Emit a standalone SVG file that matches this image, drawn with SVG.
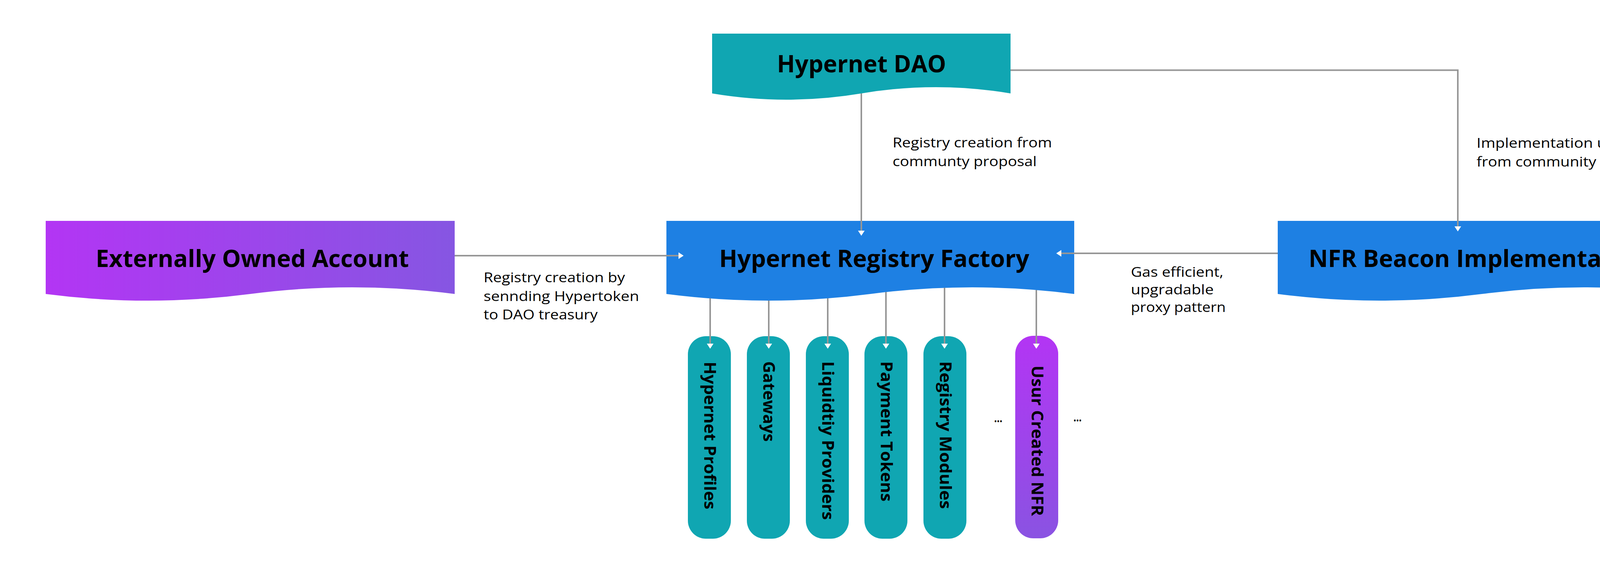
<svg xmlns="http://www.w3.org/2000/svg" width="4473" height="1499" viewBox="0 0 4473 1499">
<style>
.title{font-family:"Open Sans","Noto Sans",sans-serif;font-weight:700;font-size:60px;fill:#000}
.pilltxt{font-family:"Open Sans","Noto Sans",sans-serif;font-weight:700;font-size:41px;fill:#000}
.lbl{font-family:"Open Sans","Noto Sans",sans-serif;font-weight:400;font-size:35px;fill:#000}
.dots{font-family:"Open Sans","Noto Sans",sans-serif;font-weight:700;font-size:30px;fill:#000}
.conn{fill:none;stroke:#969696;stroke-width:4}
.teal{fill:#10A6B2}
.blue{fill:#1E80E3}
</style>
<defs>
<linearGradient id="gH" x1="0" y1="0" x2="1" y2="0">
<stop offset="0" stop-color="#B335F4"/>
<stop offset="1" stop-color="#8656E2"/>
</linearGradient>
<linearGradient id="gV" x1="0" y1="0" x2="0" y2="1">
<stop offset="0" stop-color="#B335F4"/>
<stop offset="1" stop-color="#8A53E2"/>
</linearGradient>
<marker id="arr" markerUnits="userSpaceOnUse" markerWidth="14" markerHeight="18" refX="0" refY="8.5" orient="auto" overflow="visible">
<path d="M0,0 L13,8.5 L0,17 Z" fill="#fff"/>
</marker>
</defs>
<rect x="0" y="0" width="4473" height="1499" fill="#fff"/>

<g id="node-dao">
<path class="teal" d="M1823,86 H2587 V239 Q2396,207 2205,239 Q2014,271 1823,239 Z"/>
<text class="title" x="2205.5" y="185" text-anchor="middle" textLength="433" lengthAdjust="spacingAndGlyphs">Hypernet DAO</text>
</g>

<g id="node-eoa">
<path fill="url(#gH)" d="M117,565 H1164 V752 Q902,718 640.5,752 Q379,786 117,752 Z"/>
<text class="title" x="646" y="683" text-anchor="middle" textLength="802" lengthAdjust="spacingAndGlyphs">Externally Owned Account</text>
</g>

<g id="node-factory">
<path class="blue" d="M1706,565 H2750 V752 Q2489,718 2228,752 Q1967,786 1706,752 Z"/>
<text class="title" x="2238" y="683" text-anchor="middle" textLength="794" lengthAdjust="spacingAndGlyphs">Hypernet Registry Factory</text>
</g>

<g id="node-nfr">
<path class="blue" d="M3271,565 H4316 V752 Q4055,718 3793.5,752 Q3532,786 3271,752 Z"/>
<text class="title" x="3801.5" y="683" text-anchor="middle" textLength="903" lengthAdjust="spacingAndGlyphs">NFR Beacon Implementations</text>
</g>

<g id="node-profiles">
<rect class="teal" x="1761" y="860" width="110" height="518" rx="46" ry="46"/>
<text class="pilltxt" transform="translate(1803,925) rotate(90)" textLength="378" lengthAdjust="spacingAndGlyphs">Hypernet Profiles</text>
</g>
<g id="node-gateways">
<rect class="teal" x="1912" y="860" width="110" height="518" rx="46" ry="46"/>
<text class="pilltxt" transform="translate(1954,924) rotate(90)" textLength="206" lengthAdjust="spacingAndGlyphs">Gateways</text>
</g>
<g id="node-liquidity">
<rect class="teal" x="2063" y="860" width="110" height="518" rx="46" ry="46"/>
<text class="pilltxt" transform="translate(2105,924) rotate(90)" textLength="406" lengthAdjust="spacingAndGlyphs">Liquidtiy Providers</text>
</g>
<g id="node-payment">
<rect class="teal" x="2213" y="860" width="110" height="518" rx="46" ry="46"/>
<text class="pilltxt" transform="translate(2255,924) rotate(90)" textLength="359" lengthAdjust="spacingAndGlyphs">Payment Tokens</text>
</g>
<g id="node-modules">
<rect class="teal" x="2364" y="860" width="110" height="518" rx="46" ry="46"/>
<text class="pilltxt" transform="translate(2406,924) rotate(90)" textLength="378" lengthAdjust="spacingAndGlyphs">Registry Modules</text>
</g>
<g id="node-usernfr">
<rect fill="url(#gV)" x="2599" y="859" width="110" height="518" rx="46" ry="46"/>
<text class="pilltxt" transform="translate(2641,935) rotate(90)" textLength="385" lengthAdjust="spacingAndGlyphs">Usur Created NFR</text>
</g>

<g id="ellipses">
<text class="dots" x="2545" y="1080" textLength="21" lengthAdjust="spacingAndGlyphs">...</text>
<text class="dots" x="2748" y="1078" textLength="21" lengthAdjust="spacingAndGlyphs">...</text>
</g>

<g id="connectors">
<path class="conn" d="M2205,239 V590" marker-end="url(#arr)"/>
<path class="conn" d="M2587,179.5 H3732 V579" marker-end="url(#arr)"/>
<path class="conn" d="M1164,654 H1737" marker-end="url(#arr)"/>
<path class="conn" d="M3271,648 H2717" marker-end="url(#arr)"/>
<path class="conn" d="M1818,763 V879" marker-end="url(#arr)"/>
<path class="conn" d="M1968,769 V879" marker-end="url(#arr)"/>
<path class="conn" d="M2119,763 V879" marker-end="url(#arr)"/>
<path class="conn" d="M2268,747 V879" marker-end="url(#arr)"/>
<path class="conn" d="M2418,736 V879" marker-end="url(#arr)"/>
<path class="conn" d="M2653,742 V879" marker-end="url(#arr)"/>
<g id="labels">
<text class="lbl" x="2285" y="377" textLength="408" lengthAdjust="spacingAndGlyphs">Registry creation from</text>
<text class="lbl" x="2285" y="425" textLength="369" lengthAdjust="spacingAndGlyphs">communty proposal</text>
<text class="lbl" x="3780" y="378" textLength="483" lengthAdjust="spacingAndGlyphs">Implementation upgrades</text>
<text class="lbl" x="3780" y="426" textLength="497" lengthAdjust="spacingAndGlyphs">from community proposals</text>
<text class="lbl" x="1238" y="722" textLength="362" lengthAdjust="spacingAndGlyphs">Registry creation by</text>
<text class="lbl" x="1238" y="770" textLength="398" lengthAdjust="spacingAndGlyphs">sennding Hypertoken</text>
<text class="lbl" x="1238" y="817" textLength="292" lengthAdjust="spacingAndGlyphs">to DAO treasury</text>
<text class="lbl" x="2895" y="708" textLength="237" lengthAdjust="spacingAndGlyphs">Gas efficient,</text>
<text class="lbl" x="2895" y="753" textLength="212" lengthAdjust="spacingAndGlyphs">upgradable</text>
<text class="lbl" x="2895" y="798" textLength="243" lengthAdjust="spacingAndGlyphs">proxy pattern</text>
</g>
</g>
</svg>
